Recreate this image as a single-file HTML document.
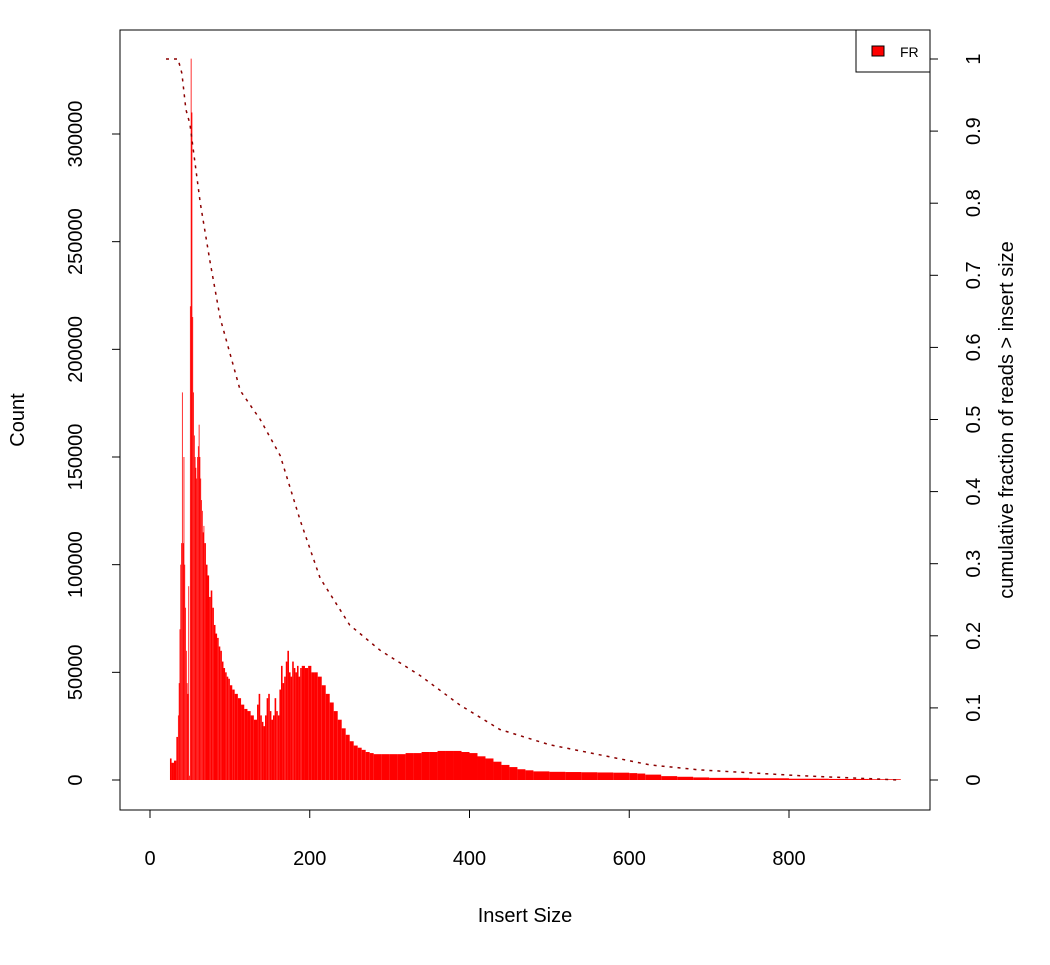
<!DOCTYPE html>
<html><head><meta charset="utf-8"><style>
body{margin:0;background:#fff}
svg text{font-family:"Liberation Sans",Arial,sans-serif;fill:#000}
</style></head><body>
<svg id="chart" width="1050" height="960" viewBox="0 0 1050 960">
<rect x="0" y="0" width="1050" height="960" fill="#fff"/>
<g id="bars"></g>
<path id="cdf" fill="none" stroke="#8b0000" stroke-width="1.5" stroke-dasharray="3,5"/>
<rect x="120" y="30" width="810" height="780" fill="none" stroke="#000" stroke-width="1"/>
<g id="axes"></g>
<text x="525" y="922" font-size="20" text-anchor="middle">Insert Size</text>
<text transform="translate(24,420) rotate(-90)" font-size="20" text-anchor="middle">Count</text>
<text transform="translate(1013,420) rotate(-90)" font-size="20" text-anchor="middle">cumulative fraction of reads &gt; insert size</text>
<g>
<rect x="856" y="30" width="74" height="42" fill="#fff" stroke="#000"/>
<rect x="872" y="46" width="12" height="10" fill="#ff0000" stroke="#000" stroke-width="1"/>
<text x="900" y="57" font-size="14">FR</text>
</g>
</svg>
<script>
const sizes=[20,25,27,30,33,35,36,37,38,39,40,41,42,43,44,45,46,47,48,49,50,51,52,53,54,55,56,57,58,59,60,61,62,63,64,65,66,67,68,70,72,74,76,78,80,82,84,86,88,90,92,94,96,98,100,103,106,110,114,118,122,126,130,134,136,138,140,142,144,146,148,150,152,154,156,158,160,162,164,166,168,170,172,174,176,178,180,182,184,186,188,190,194,198,202,206,210,215,220,225,230,235,240,245,250,255,260,265,270,275,280,290,300,310,320,330,340,350,360,370,380,390,400,410,420,430,440,450,460,470,480,500,520,540,560,580,600,610,620,640,660,680,700,750,800,850,900,940];
const counts=[0,10000,8000,9000,20000,30000,45000,70000,100000,110000,180000,110000,150000,100000,80000,60000,45000,40000,90000,2000,220000,335000,310000,215000,180000,160000,150000,145000,140000,150000,155000,165000,150000,140000,130000,125000,115000,118000,110000,100000,95000,85000,88000,80000,72000,68000,66000,62000,60000,55000,52000,50000,48000,47000,44000,42000,40000,38000,35000,33000,32000,30000,28000,35000,40000,30000,27000,25000,30000,38000,40000,32000,28000,30000,38000,32000,30000,42000,53000,45000,48000,55000,60000,50000,48000,55000,52000,50000,53000,48000,52000,53000,52000,53000,50000,50000,48000,44000,40000,36000,32000,28000,24000,21000,18000,16000,15000,14000,13000,12500,12000,12000,12000,12000,12500,12500,13000,13000,13500,13500,13500,13000,12500,11000,10000,8500,7000,6000,5000,4500,4000,3800,3700,3600,3500,3400,3200,3000,2500,1800,1500,1200,1000,800,600,500,350,200,0];
const cdfSizes=[20,35,40,45,50,63,75,88,113,138,163,188,213,250,288,338,388,438,500,563,626,688,814,939];
const cdfFrac=[1,1,0.98,0.93,0.91,0.80,0.72,0.64,0.54,0.50,0.45,0.36,0.28,0.215,0.18,0.145,0.104,0.07,0.049,0.035,0.021,0.014,0.006,0];
const xTicks=[0,200,400,600,800];
const yTicks=[0,50000,100000,150000,200000,250000,300000];
const rTicks=[0,0.1,0.2,0.3,0.4,0.5,0.6,0.7,0.8,0.9,1];
const X=v=>150+v*639/800, Y=c=>780-c*646/300000, R=f=>780-f*721;
const NS='http://www.w3.org/2000/svg';
function mk(t,a,p){const e=document.createElementNS(NS,t);for(const k in a)e.setAttribute(k,a[k]);p.appendChild(e);return e;}
const bars=document.getElementById('bars');
for(let i=0;i<sizes.length-1;i++){
 const x0=X(sizes[i]),x1=X(sizes[i+1]);
 const b=mk('rect',{x:x0,y:Y(counts[i]),width:Math.max(x1-x0,0.6),height:780-Y(counts[i]),fill:'#ff0000'},bars);
 
 
}
let d='';cdfSizes.forEach((s,i)=>{d+=(i?'L':'M')+X(s).toFixed(1)+','+R(cdfFrac[i]).toFixed(1);});
document.getElementById('cdf').setAttribute('d',d);
const ax=document.getElementById('axes');
mk('line',{x1:X(0),x2:X(800),y1:810,y2:810,stroke:'#000'},ax);
xTicks.forEach(t=>{mk('line',{x1:X(t),x2:X(t),y1:810,y2:818,stroke:'#000'},ax);
 const e=mk('text',{x:X(t),y:865,'font-size':20,'text-anchor':'middle'},ax);e.textContent=t;
 
 });
mk('line',{x1:120,x2:120,y1:Y(0),y2:Y(300000),stroke:'#000'},ax);
yTicks.forEach(t=>{mk('line',{x1:112,x2:120,y1:Y(t),y2:Y(t),stroke:'#000'},ax);
 const e=mk('text',{transform:`translate(82,${Y(t)}) rotate(-90)`,'font-size':20,'text-anchor':'middle'},ax);e.textContent=t;
 
 });
mk('line',{x1:930,x2:930,y1:R(0),y2:R(1),stroke:'#000'},ax);
rTicks.forEach(t=>{mk('line',{x1:930,x2:938,y1:R(t),y2:R(t),stroke:'#000'},ax);
 const e=mk('text',{transform:`translate(980,${R(t)}) rotate(-90)`,'font-size':20,'text-anchor':'middle'},ax);e.textContent=String(t);
 
 });
</script>
</body></html>
